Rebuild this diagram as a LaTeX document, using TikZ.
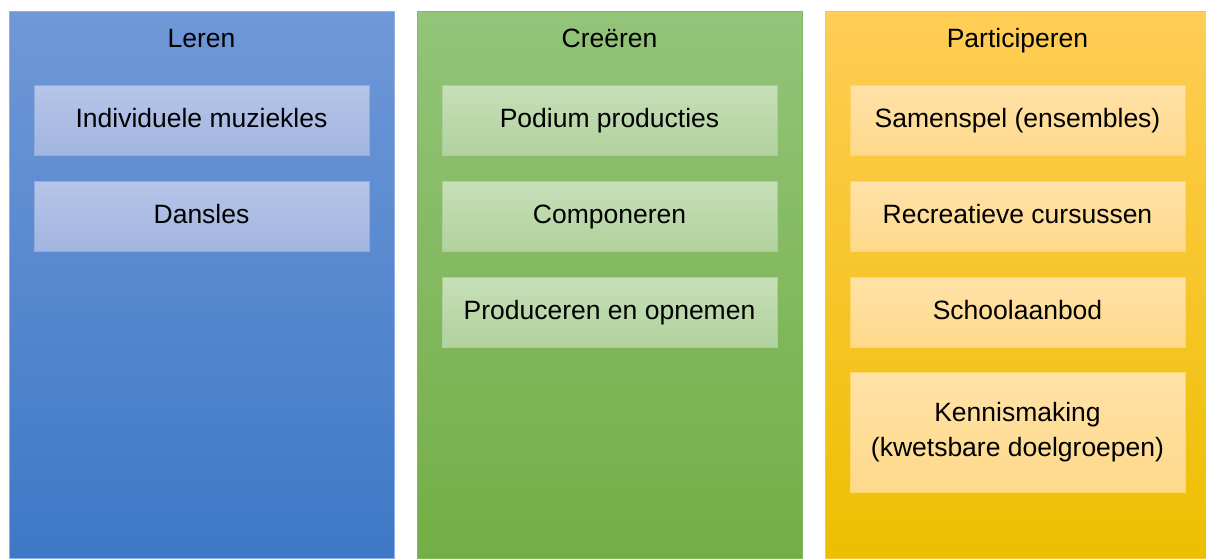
\documentclass[tikz,border=0pt]{standalone}
\usepackage{fontspec}
\setmainfont{Liberation Sans}
\usetikzlibrary{positioning}

\definecolor{lerenTop}{HTML}{6F98D8}
\definecolor{lerenBot}{HTML}{3E78C6}
\definecolor{lerenEdge}{HTML}{8FB0E4}
\definecolor{lerenItemTop}{HTML}{B6C5E8}
\definecolor{lerenItemBot}{HTML}{A2B5E0}
\definecolor{lerenItemEdge}{HTML}{93ABDC}
\definecolor{creerenTop}{HTML}{93C47A}
\definecolor{creerenBot}{HTML}{73AE45}
\definecolor{creerenEdge}{HTML}{82B85E}
\definecolor{creerenItemTop}{HTML}{C6DFB8}
\definecolor{creerenItemBot}{HTML}{B1D29E}
\definecolor{creerenItemEdge}{HTML}{ACCF98}
\definecolor{partTop}{HTML}{FFCD55}
\definecolor{partBot}{HTML}{EDBF00}
\definecolor{partEdge}{HTML}{F8C83A}
\definecolor{partItemTop}{HTML}{FFE2A8}
\definecolor{partItemBot}{HTML}{FED98A}
\definecolor{partItemEdge}{HTML}{FFD46A}

\begin{document}
\begin{tikzpicture}[
        x = 1pt, y = -1pt, % one unit per pixel, y going down
        node distance = 96pt, % centre to centre of the items
        font = \fontsize{26.5}{35}\selectfont
      ]

      \tikzstyle{column}=[rectangle, minimum width=385pt, minimum height=547pt, inner sep=0pt, line width=0.75pt]
      \tikzstyle{title}=[inner sep=0pt, text height=19.5pt, text depth=5.5pt]
      \tikzstyle{item}=[rectangle, minimum width=335pt, minimum height=70pt, inner sep=0pt, align=center, line width=0.75pt, text height=19.5pt, text depth=5.5pt]
      \tikzstyle{lerenitem}=[item, top color=lerenItemTop, bottom color=lerenItemBot, draw=lerenItemEdge]
      \tikzstyle{creerenitem}=[item, top color=creerenItemTop, bottom color=creerenItemBot, draw=creerenItemEdge]
      \tikzstyle{partitem}=[item, top color=partItemTop, bottom color=partItemBot, draw=partItemEdge]

      \useasboundingbox (0,0) rectangle (1206,558);

      % columns
      \node[column, top color=lerenTop, bottom color=lerenBot, draw=lerenEdge] (leren) at (201.5,284.5) {};
      \node[column, top color=creerenTop, bottom color=creerenBot, draw=creerenEdge] (creeren) at (609.5,284.5) {};
      \node[column, top color=partTop, bottom color=partBot, draw=partEdge] (part) at (1017.5,284.5) {};

      % titles
      \node[title] (lerenT) at (201.5,40) {Leren};
      \node[title] (creerenT) at (609.5,40) {Creëren};
      \node[title] (partT) at (1017.5,40) {Participeren};

      % Leren
      \node[lerenitem] (muziekles) at (201.5,120) {Individuele muziekles};
      \node[lerenitem] (dansles) [below of=muziekles] {Dansles};

      % Creeren
      \node[creerenitem] (podium) at (609.5,120) {Podium producties};
      \node[creerenitem] (componeren) [below of=podium] {Componeren};
      \node[creerenitem] (produceren) [below of=componeren] {Produceren en opnemen};

      % Participeren
      \node[partitem] (samenspel) at (1017.5,120) {Samenspel (ensembles)};
      \node[partitem] (cursussen) [below of=samenspel] {Recreatieve cursussen};
      \node[partitem] (school) [below of=cursussen] {Schoolaanbod};
      \node[partitem, minimum height=120pt, text height=, text depth=] (kennis) [below of=school, node distance=120pt] {Kennismaking\\(kwetsbare doelgroepen)};

    \end{tikzpicture}
\end{document}
